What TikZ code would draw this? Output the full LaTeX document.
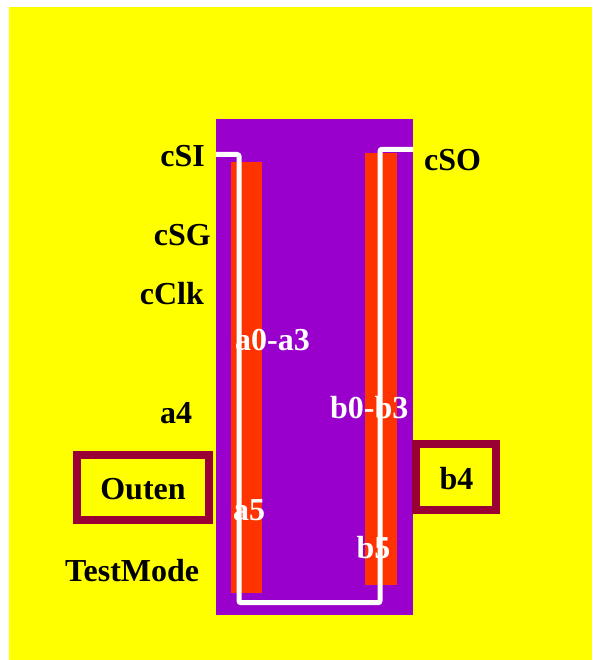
\documentclass[tikz,border=0pt]{standalone}
\usepackage{fontspec}
\setmainfont{Liberation Serif}
\definecolor{bgyellow}{HTML}{FFFF00}
\definecolor{chippurple}{HTML}{9900CC}
\definecolor{barred}{HTML}{FF3300}
\definecolor{boxred}{HTML}{990033}
\begin{document}
\begin{tikzpicture}[x=1pt,y=-1pt,
  lbl/.style={inner sep=0pt,font=\fontsize{32}{38}\selectfont\bfseries},
  blk/.style={lbl,text=black},
  wht/.style={lbl,text=white},
  pinbox/.style={draw=boxred,line width=7.5pt,fill=bgyellow},
  wire/.style={draw=white,line width=5pt,rounded corners=2pt}]
\useasboundingbox (0,0) rectangle (592,660);
\fill[bgyellow] (9,7) rectangle (592,660);
\fill[chippurple] (216,119) rectangle (413,615);
\fill[barred] (230.7,161.7) rectangle (262,593);
\fill[barred] (365,153) rectangle (397,585);
\draw[wire] (216,154.5) -- (239,154.5) -- (239,602.7) -- (380,602.7) -- (380,149.3) -- (413,149.3);
\draw[pinbox] (77,455) rectangle (209,520);
\draw[pinbox] (416,444) rectangle (496,510);
\node[blk,anchor=base east] (csi) at (205,167) {cSI};
\node[blk,anchor=base west] (cso) at (424,171) {cSO};
\node[blk,anchor=base east] (csg) at (211,245) {cSG};
\node[blk,anchor=base east] (cclk) at (204,304) {cClk};
\node[wht,anchor=base west] (a03) at (235,350) {a0-a3};
\node[wht,anchor=base west] (b03) at (330,418) {b0-b3};
\node[blk,anchor=base west] (a4) at (160,423) {a4};
\node[blk,anchor=base] (outen) at (143,499) {Outen};
\node[blk,anchor=base] (b4) at (456.5,489) {b4};
\node[wht,anchor=base west] (a5) at (233,520) {a5};
\node[wht,anchor=base west] (b5) at (356.5,558) {b5};
\node[blk,anchor=base west] (tm) at (65,581) {TestMode};
\end{tikzpicture}
\end{document}
